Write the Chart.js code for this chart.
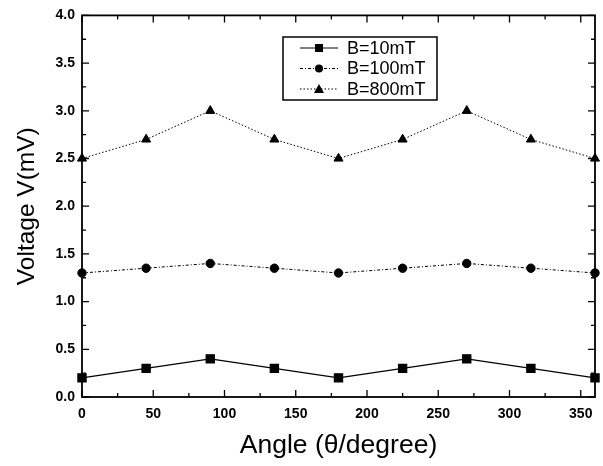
<!DOCTYPE html>
<html>
<head>
<meta charset="utf-8">
<script src="https://cdn.jsdelivr.net/npm/chart.js@4"></script>
<style>
  body { margin: 0; background: #fff; }
  #wrap { width: 603px; height: 466px; }
</style>
</head>
<body>
<div id="wrap"><canvas id="chart" width="603" height="466"></canvas></div>
<script>
// data
const angles = [0, 45, 90, 135, 180, 225, 270, 315, 360];
const v10 = [0.2, 0.3, 0.4, 0.3, 0.2, 0.3, 0.4, 0.3, 0.2];
const v100 = [1.3, 1.35, 1.4, 1.35, 1.3, 1.35, 1.4, 1.35, 1.3];
const v800 = [2.5, 2.7, 3.0, 2.7, 2.5, 2.7, 3.0, 2.7, 2.5];
const seriesLabels = ['B=10mT', 'B=100mT', 'B=800mT'];

function pts(ys) {
  return angles.map((a, i) => ({ x: a, y: ys[i] }));
}

const tickFont = { size: 14, weight: 'bold', family: '"Liberation Sans Narrow", "Liberation Sans", Arial, sans-serif' };

// frame + inward ticks on all four sides, and the boxed legend inside the plot
const framePlugin = {
  id: 'frame',
  afterDraw(chart) {
    const ctx = chart.ctx;
    const a = chart.chartArea;
    const xs = chart.scales.x, ys = chart.scales.y;
    ctx.save();
    ctx.strokeStyle = '#000';
    ctx.lineWidth = 1.8;
    ctx.strokeRect(a.left, a.top, a.right - a.left, a.bottom - a.top);
    ctx.lineWidth = 1.3;
    ctx.beginPath();
    for (let v = 0; v <= 360; v += 25) {
      const px = xs.getPixelForValue(v);
      const len = v % 50 === 0 ? 7 : 4;
      ctx.moveTo(px, a.bottom); ctx.lineTo(px, a.bottom - len);
      ctx.moveTo(px, a.top); ctx.lineTo(px, a.top + len);
    }
    for (let v = 0; v <= 4.0001; v += 0.25) {
      const py = ys.getPixelForValue(v);
      const len = Math.round(v * 4) % 2 === 0 ? 7 : 4;
      ctx.moveTo(a.left, py); ctx.lineTo(a.left + len, py);
      ctx.moveTo(a.right, py); ctx.lineTo(a.right - len, py);
    }
    ctx.stroke();

    // legend box
    const bx = 283, by = 37, bw = 154, bh = 63;
    ctx.lineWidth = 1.5;
    ctx.strokeRect(bx, by, bw, bh);
    chart.data.datasets.forEach((ds, i) => {
      const y = by + 11 + i * 20.5;
      ctx.beginPath();
      ctx.setLineDash(ds.borderDash || []);
      ctx.lineWidth = 1;
      ctx.moveTo(bx + 17, y); ctx.lineTo(bx + 55, y);
      ctx.stroke();
      ctx.setLineDash([]);
      ctx.fillStyle = '#000';
      const cx = bx + 36;
      if (ds.pointStyle === 'rect') {
        ctx.fillRect(cx - 4, y - 4, 8, 8);
      } else if (ds.pointStyle === 'circle') {
        ctx.beginPath(); ctx.arc(cx, y, 4, 0, Math.PI * 2); ctx.fill();
      } else {
        ctx.beginPath(); ctx.moveTo(cx, y - 5); ctx.lineTo(cx + 5, y + 4); ctx.lineTo(cx - 5, y + 4); ctx.closePath(); ctx.fill();
      }
      ctx.font = '18px "Liberation Sans", Arial, sans-serif';
      ctx.textBaseline = 'middle';
      ctx.fillText(ds.label, bx + 64, y + 1);
    });
    ctx.restore();
  }
};

new Chart(document.getElementById('chart'), {
  type: 'line',
  data: {
    datasets: [
      { label: seriesLabels[0], data: pts(v10), borderColor: '#000', backgroundColor: '#000',
        borderWidth: 1.2, pointStyle: 'rect', pointRadius: 5.8, borderDash: [] },
      { label: seriesLabels[1], data: pts(v100), borderColor: '#000', backgroundColor: '#000',
        borderWidth: 1, pointStyle: 'circle', pointRadius: 4.2, borderDash: [3, 2, 1, 2] },
      { label: seriesLabels[2], data: pts(v800), borderColor: '#000', backgroundColor: '#000',
        borderWidth: 1, pointStyle: 'triangle', pointRadius: 5.2, borderDash: [1.5, 2] }
    ]
  },
  options: {
    responsive: false,
    animation: false,
    clip: false,
    layout: { padding: { top: 14, right: 8, left: 9, bottom: 0 } },
    plugins: { legend: { display: false }, tooltip: { enabled: false } },
    scales: {
      x: {
        type: 'linear', min: 0, max: 360,
        grid: { display: false, drawTicks: false },
        border: { display: false },
        ticks: { stepSize: 50, includeBounds: false, autoSkip: false, color: '#000', padding: 9,
                 maxRotation: 0, font: tickFont },
        title: { display: true, text: 'Angle (θ/degree)', color: '#000', padding: { top: 4 },
                 font: { size: 26.5, family: '"Liberation Sans", Arial, sans-serif' } },
        afterFit(s) { s.height = 69; s.paddingRight = 0; }
      },
      y: {
        min: 0, max: 4.0,
        grid: { display: false, drawTicks: false },
        border: { display: false },
        ticks: { stepSize: 0.5, color: '#000', padding: 7,
                 callback: v => v.toFixed(1), font: tickFont },
        title: { display: true, text: 'Voltage V(mV)', color: '#000', padding: { bottom: 4 },
                 font: { size: 24.5, family: '"Liberation Sans", Arial, sans-serif' } },
        afterFit(s) { s.width = 73; }
      }
    }
  },
  plugins: [framePlugin]
});
</script>
</body>
</html>
